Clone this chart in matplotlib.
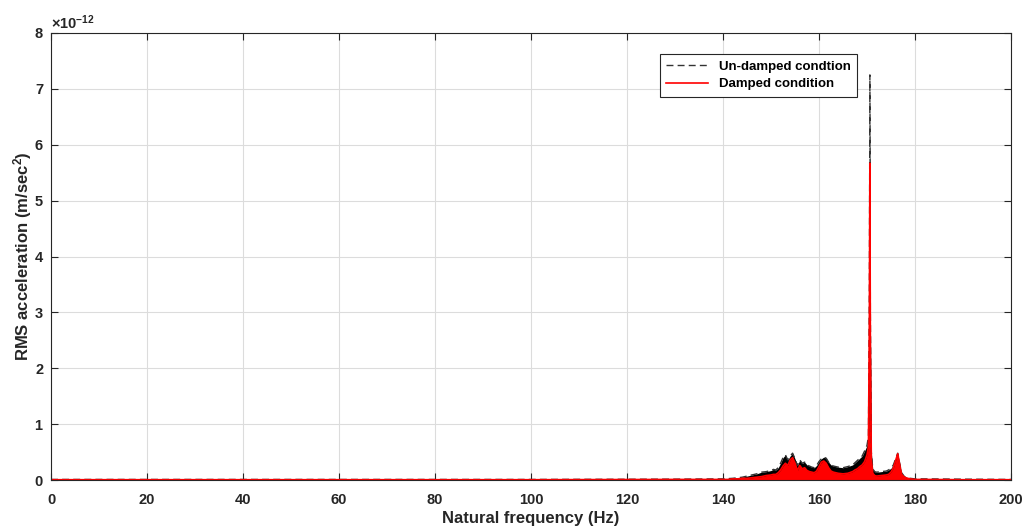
import matplotlib
matplotlib.use("Agg")
import matplotlib.pyplot as plt
import numpy as np

plt.rcParams['font.family'] = ['Liberation Sans', 'DejaVu Sans']
plt.rcParams['font.weight'] = 'bold'
plt.rcParams['mathtext.fontset'] = 'custom'
plt.rcParams['mathtext.rm'] = 'Liberation Sans:bold'
plt.rcParams['mathtext.it'] = 'Liberation Sans:bold'
plt.rcParams['mathtext.bf'] = 'Liberation Sans:bold'

# frequency points (Hz) and rms acceleration (x1e-12 m/s^2)
freq = [0, 30, 60, 100, 130, 140, 141, 142, 143, 144, 145, 146, 147, 148, 149, 150,
        150.5, 151, 151.5, 152, 152.5, 153, 153.5, 154, 154.5, 155, 155.5, 156, 156.5,
        157, 157.5, 158, 158.5, 159, 159.5, 160, 160.5, 161, 161.5, 162, 162.5, 163,
        164, 165, 166, 167, 167.5, 168, 168.5, 169, 169.5, 170, 170.3, 170.5, 170.6,
        170.7, 170.9, 171.2, 171.6, 172, 173, 174, 174.5, 175, 175.5, 176, 176.4,
        176.8, 177.2, 177.8, 178.5, 179, 180, 182, 190, 200]

undamped = [0.01, 0.01, 0.01, 0.01, 0.015, 0.02, 0.025, 0.03, 0.04, 0.05, 0.07, 0.09,
            0.11, 0.14, 0.15, 0.17, 0.19, 0.18, 0.22, 0.3, 0.4, 0.45, 0.36, 0.43, 0.48,
            0.38, 0.26, 0.36, 0.3, 0.32, 0.27, 0.25, 0.23, 0.22, 0.26, 0.33, 0.38, 0.41,
            0.39, 0.32, 0.27, 0.25, 0.23, 0.22, 0.24, 0.27, 0.31, 0.35, 0.39, 0.43, 0.52,
            0.62, 0.78, 3.5, 7.25, 3.0, 0.5, 0.2, 0.15, 0.14, 0.15, 0.16, 0.18, 0.21,
            0.27, 0.39, 0.48, 0.3, 0.13, 0.06, 0.04, 0.03, 0.02, 0.02, 0.015, 0.01]

damped = [0.005, 0.005, 0.005, 0.005, 0.01, 0.01, 0.01, 0.02, 0.02, 0.03, 0.03, 0.04,
          0.05, 0.06, 0.08, 0.09, 0.1, 0.1, 0.13, 0.18, 0.25, 0.3, 0.26, 0.36, 0.4,
          0.3, 0.17, 0.26, 0.2, 0.22, 0.17, 0.15, 0.14, 0.13, 0.16, 0.24, 0.32, 0.34,
          0.3, 0.22, 0.16, 0.14, 0.12, 0.11, 0.12, 0.15, 0.18, 0.2, 0.24, 0.27, 0.33,
          0.45, 0.6, 3.0, 5.67, 2.5, 0.35, 0.12, 0.08, 0.07, 0.08, 0.09, 0.1, 0.14,
          0.22, 0.36, 0.47, 0.28, 0.1, 0.05, 0.03, 0.02, 0.01, 0.01, 0.005, 0.005]

scale = 1e-12
f = np.array(freq)
und = np.array(undamped) * scale
dmp = np.array(damped) * scale

fig = plt.figure(figsize=(10.27, 5.28), dpi=100)
ax = fig.add_axes([51 / 1027, 48 / 528, 960 / 1027, 447 / 528])

ax.fill_between(f, 0, und, color='black', lw=0)
ax.plot(f, und, color='#333333', ls=(0, (5, 3)), lw=1.0, label='Un-damped condtion')
ax.fill_between(f, 0, dmp, color='red', lw=0)
ax.plot(f, dmp, color='red', lw=1.2, label='Damped condition')

ax.set_xlim(0, 200)
ax.set_ylim(0, 8e-12)
ax.set_xticks(np.arange(0, 201, 20))
ax.set_yticks(np.arange(0, 9, 1) * scale)
ax.ticklabel_format(axis='y', style='sci', scilimits=(0, 0), useMathText=True)
ax.yaxis.get_offset_text().set_fontsize(10.5)

ax.grid(True, color='#dcdcdc', lw=0.8)
ax.set_axisbelow(True)
ax.tick_params(direction='in', top=True, right=True, length=5, width=0.8,
               labelsize=10.5, colors='#262626', pad=5)
ax.tick_params(axis='x', pad=9)
for s in ax.spines.values():
    s.set_color('#262626')
    s.set_linewidth(0.8)

ax.set_xlabel('Natural frequency (Hz)', fontsize=12, fontweight='bold', color='#262626',
              labelpad=3)
ax.set_ylabel('RMS acceleration (m/sec$^2$)', fontsize=12, fontweight='bold', color='#262626',
              labelpad=0)

leg = ax.legend(loc='upper left', bbox_to_anchor=(0.627, 0.968),
                fontsize=9.5, handlelength=3.2, fancybox=False, framealpha=1,
                edgecolor='#262626', borderpad=0.5, labelspacing=0.4)
leg.get_frame().set_linewidth(0.8)

fig.savefig('out.png', dpi=100)
